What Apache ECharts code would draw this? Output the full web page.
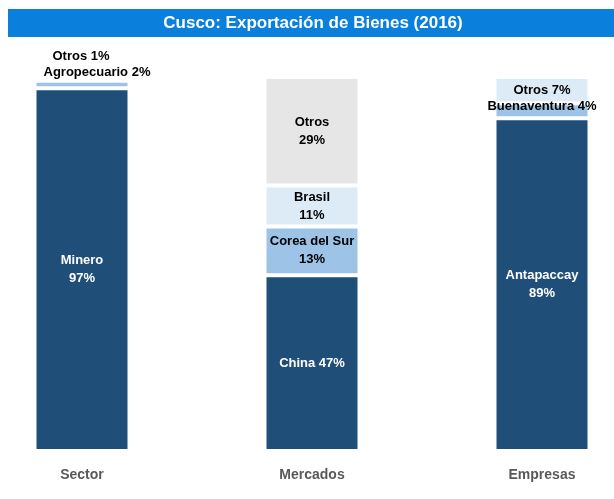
<!DOCTYPE html>
<html>
<head>
<meta charset="utf-8">
<script src="https://cdn.jsdelivr.net/npm/echarts@6/dist/echarts.min.js"></script>
<style>
  html, body { margin: 0; padding: 0; background: #fff; }
  #chart { width: 614px; height: 499px; }
</style>
</head>
<body>
<div id="chart"></div>
<script>
// categorías del eje x
var categorias = ["Sector", "Mercados", "Empresas"];
// participación (%) de cada grupo, de abajo hacia arriba
var sectorNombres = ["Minero", "Agropecuario", "Otros"];
var sectorValores = [97, 2, 1];
var mercadoNombres = ["China", "Corea del Sur", "Brasil", "Otros"];
var mercadoValores = [47, 13, 11, 29];
var empresaNombres = ["Antapaccay", "Buenaventura", "Otros"];
var empresaValores = [89, 4, 7];

(function () {
  var myChart = echarts.init(document.getElementById("chart"));
  var fuente = "Liberation Sans";
  // colores por nivel de la pila
  var colores = ["#1F4E79", "#9DC3E6", "#DDEBF7", "#E7E6E6"];
  var grupos = [
    { nombres: sectorNombres, valores: sectorValores },
    { nombres: mercadoNombres, valores: mercadoValores },
    { nombres: empresaNombres, valores: empresaValores }
  ];

  // etiquetas que no van centradas dentro del segmento
  function etiqueta(cat, nombre, valor, nivel) {
    var base = {
      show: true,
      fontFamily: fuente,
      fontWeight: "bold",
      fontSize: 13,
      lineHeight: 18,
      color: nivel === 0 ? "#fff" : "#000",
      position: "inside",
      formatter: nombre + "\n" + valor + "%"
    };
    if (cat === "Sector" && nombre === "Otros") {
      base.position = "top"; base.distance = 12; base.offset = [-1, 0];
      base.formatter = nombre + " " + valor + "%";
    } else if (cat === "Sector" && nombre === "Agropecuario") {
      base.position = "top"; base.distance = 0; base.offset = [15, 1];
      base.formatter = nombre + " " + valor + "%";
    } else if (cat === "Empresas" && nombre !== "Antapaccay") {
      base.formatter = nombre + " " + valor + "%";
      if (nombre === "Buenaventura") base.offset = [0, -4];
    } else if (cat === "Mercados" && nombre === "China") {
      base.formatter = nombre + " " + valor + "%";
    }
    return base;
  }

  var series = [];
  for (var nivel = 0; nivel < 4; nivel++) {
    var datos = [];
    for (var c = 0; c < grupos.length; c++) {
      var g = grupos[c];
      if (nivel < g.valores.length) {
        datos.push({
          value: g.valores[nivel],
          label: etiqueta(categorias[c], g.nombres[nivel], g.valores[nivel], nivel)
        });
      } else {
        datos.push("-");
      }
    }
    series.push({
      type: "bar",
      stack: "total",
      barWidth: 95,
      data: datos,
      itemStyle: {
        color: colores[nivel],
        borderColor: "#fff",
        borderWidth: 2
      },
      emphasis: { disabled: true }
    });
  }

  var option = {
    animation: false,
    grid: {
      left: -33,
      right: -43,
      top: 77,
      bottom: 48,
      outerBoundsMode: "none",
      containLabel: false
    },
    xAxis: {
      type: "category",
      data: categorias,
      axisLine: { show: false },
      axisTick: { show: false },
      axisLabel: {
        margin: 17,
        color: "#595959",
        fontFamily: fuente,
        fontWeight: "bold",
        fontSize: 14
      }
    },
    yAxis: {
      type: "value",
      min: 0,
      max: 100,
      show: false
    },
    // barra azul del título
    graphic: [
      {
        type: "rect",
        shape: { x: 8, y: 9, width: 606, height: 28 },
        style: { fill: "#0A7FDB" }
      },
      {
        type: "text",
        x: 313,
        y: 23,
        style: {
          text: "Cusco: Exportación de Bienes (2016)",
          fill: "#fff",
          font: "bold 17px 'Liberation Sans'",
          textAlign: "center",
          textVerticalAlign: "middle"
        }
      }
    ],
    series: series
  };

  myChart.setOption(option);
  window.addEventListener("resize", function () {
    myChart.resize();
  });
})();
</script>
</body>
</html>
